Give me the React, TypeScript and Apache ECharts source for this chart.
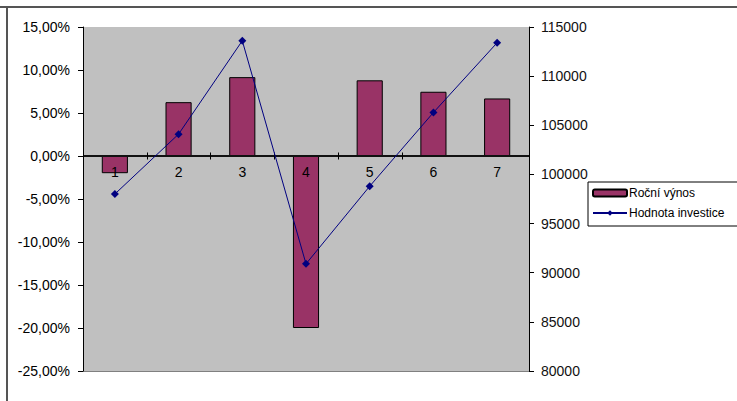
import React, { useEffect, useRef } from "react";
import * as echarts from "echarts";

const categories = ["1", "2", "3", "4", "5", "6", "7"];
const annualReturn = [-2.0, 6.26, 9.17, -20.0, 8.8, 7.47, 6.69]; // %
const investmentValue = [98000, 104100, 113600, 90900, 98800, 106300, 113400];
const seriesNames = ["Roční výnos", "Hodnota investice"];
const returnAxisMin = -25;
const returnAxisMax = 15;
const valueAxisMin = 80000;
const valueAxisMax = 115000;

const FONT = "Liberation Sans, Arial, sans-serif";
const W = 737;
const H = 401;
const GRID = { left: 83, right: 208, top: 27, bottom: 30 };

export default function App() {
  const ref = useRef<HTMLDivElement>(null);
  useEffect(() => {
    document.body.style.margin = "0";
    const chart = echarts.init(ref.current!, null, { renderer: "svg" });
    const plotH = H - GRID.top - GRID.bottom;
    // move the category axis labels up to the 0 % level of the left axis
    const zeroOffset = -((0 - returnAxisMin) / (returnAxisMax - returnAxisMin)) * plotH;
    chart.setOption({
      animation: false,
      backgroundColor: "#ffffff",
      textStyle: { fontFamily: FONT },
      grid: {
        ...GRID,
        show: true,
        backgroundColor: "#C0C0C0",
        borderWidth: 0,
      },
      legend: {
        orient: "vertical",
        left: 588,
        top: 182,
        backgroundColor: "#ffffff",
        borderColor: "#000000",
        borderWidth: 1,
        padding: [5, 40, 7, 4],
        itemGap: 8,
        itemWidth: 34,
        itemHeight: 7,
        textStyle: { fontFamily: FONT, fontSize: 12, color: "#000", padding: [0, 0, 0, -3] },
        data: seriesNames,
      },
      graphic: [
        {
          type: "line",
          shape: { x1: 0, y1: 7, x2: W, y2: 7 },
          style: { stroke: "#555", lineWidth: 2 },
        },
        {
          type: "line",
          shape: { x1: 7, y1: 7, x2: 7, y2: H },
          style: { stroke: "#555", lineWidth: 2 },
        },
        {
          type: "line",
          shape: { x1: GRID.left, y1: H - GRID.bottom + 0.5, x2: W - GRID.right, y2: H - GRID.bottom + 0.5 },
          style: { stroke: "#808080", lineWidth: 1 },
        },
      ],
      xAxis: [
        {
          type: "category",
          data: categories,
          position: "bottom",
          offset: zeroOffset,
          z: 10,
          axisLine: { show: false, onZero: false },
          axisTick: { show: false },
          axisLabel: { fontFamily: FONT, fontSize: 14, color: "#000", margin: 9 },
          splitLine: { show: false },
        },
      ],
      yAxis: [
        {
          type: "value",
          min: returnAxisMin,
          max: returnAxisMax,
          interval: 5,
          position: "left",
          axisLine: { show: true, onZero: false, lineStyle: { color: "#000", width: 1 } },
          axisTick: { show: true, length: 5, lineStyle: { color: "#000" } },
          axisLabel: {
            fontFamily: FONT,
            fontSize: 14,
            color: "#000",
            margin: 13,
            formatter: (v: number) => v.toFixed(2).replace(".", ",") + "%",
          },
          splitLine: { show: false },
        },
        {
          type: "value",
          min: valueAxisMin,
          max: valueAxisMax,
          interval: 5000,
          position: "right",
          axisLine: { show: true, onZero: false, lineStyle: { color: "#000", width: 1 } },
          axisTick: { show: true, length: 5, lineStyle: { color: "#000" } },
          axisLabel: {
            fontFamily: FONT,
            fontSize: 14,
            color: "#111",
            margin: 12,
            formatter: (v: number) => String(v),
          },
          splitLine: { show: false },
        },
      ],
      series: [
        {
          name: seriesNames[0],
          type: "bar",
          data: annualReturn,
          barWidth: "41%",
          itemStyle: { color: "#993366", borderColor: "#000", borderWidth: 1 },
        },
        {
          name: "zeroAxisLine",
          type: "custom",
          xAxisIndex: 0,
          yAxisIndex: 0,
          data: [0],
          encode: { x: 0 },
          z: 4,
          silent: true,
          clip: false,
          renderItem: (_params: any, api: any) => {
            const band = api.size([1, 0])[0];
            const p = api.coord([0, 0]);
            const left = p[0] - band / 2;
            const y = Math.round(p[1]);
            return {
              type: "rect",
              shape: { x: left, y: y - 1, width: band * categories.length, height: 2 },
              style: { fill: "#111" },
            };
          },
        },
        {
          name: "zeroAxisTicks",
          type: "custom",
          xAxisIndex: 0,
          yAxisIndex: 0,
          data: [1, 2, 3, 4, 5, 6],
          encode: { x: 0 },
          z: 4,
          silent: true,
          clip: false,
          renderItem: (_params: any, api: any) => {
            const idx = api.value(0);
            const band = api.size([1, 0])[0];
            const p = api.coord([idx, 0]);
            const x = Math.round(p[0] - band / 2) + 0.5;
            const y = Math.round(p[1]);
            return {
              type: "rect",
              shape: { x: x - 0.5, y: y - 3.5, width: 1, height: 7 },
              style: { fill: "#000" },
            };
          },
        },
        {
          name: seriesNames[1],
          type: "line",
          yAxisIndex: 1,
          data: investmentValue,
          symbol: "diamond",
          symbolSize: 8,
          lineStyle: { color: "#000080", width: 1 },
          itemStyle: { color: "#000080" },
          z: 5,
        },
      ],
    });
    return () => chart.dispose();
  }, []);
  return <div ref={ref} style={{ width: W, height: H, position: "absolute", left: 0, top: 0 }} />;
}
